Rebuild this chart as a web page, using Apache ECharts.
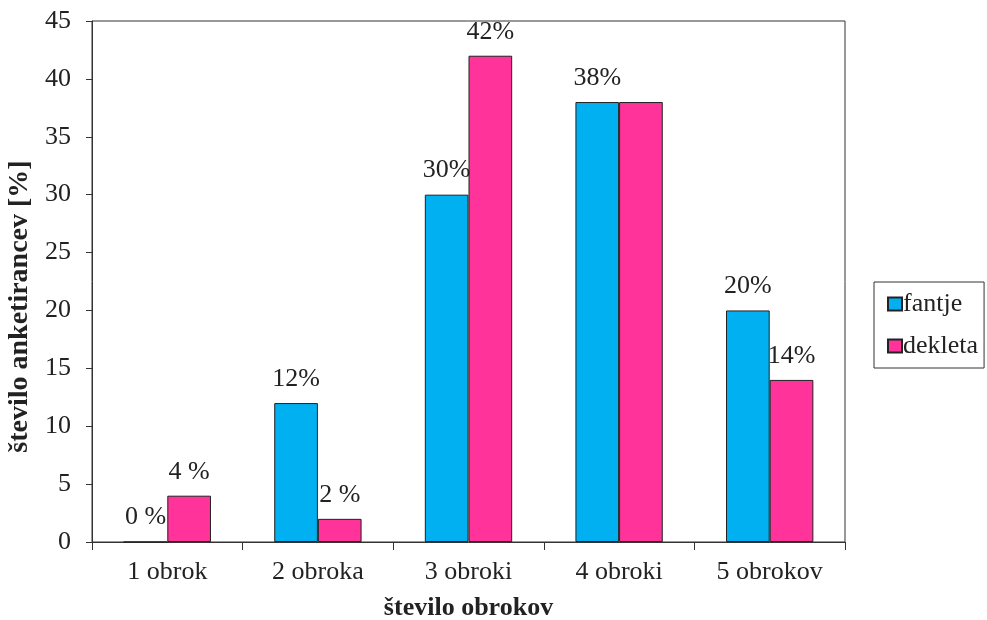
<!DOCTYPE html>
<html><head><meta charset="utf-8">
<script src="https://cdn.jsdelivr.net/npm/echarts@6/dist/echarts.min.js"></script>
<style>html,body{margin:0;padding:0;background:#fff}#c{width:987px;height:620px}</style>
</head><body><div id="c"></div>
<script>
const categories = ['1 obrok', '2 obroka', '3 obroki', '4 obroki', '5 obrokov'];
const fantje = [0, 12, 30, 38, 20];
const dekleta = [4, 2, 42, 38, 14];
const fantjeLabels = ['0 %', '12%', '30%', '38%', '20%'];
const dekletaLabels = ['4 %', '2 %', '42%', '', '14%'];
const yTicks = { min: 0, max: 45, interval: 5 };

const serif = '"Liberation Serif", "DejaVu Serif", serif';
const chart = echarts.init(document.getElementById('c'), null, { renderer: 'canvas' });
const labelStyle = (arr) => ({
  show: true, position: 'top', distance: 11,
  fontFamily: serif, fontSize: 26, color: '#222',
  formatter: (p) => arr[p.dataIndex]
});
chart.setOption({
  animation: false,
  backgroundColor: '#fff',
  grid: { left: 92, right: 142, top: 21, bottom: 78, outerBoundsMode: 'none', containLabel: false,
          show: true, borderColor: '#333', borderWidth: 1, backgroundColor: 'transparent' },
  legend: {
    orient: 'vertical', left: 874, top: 282,
    itemWidth: 14, itemHeight: 13, itemGap: 16,
    borderColor: '#333', borderWidth: 1, padding: [9, 6, 9, 13],
    textStyle: { fontFamily: serif, fontSize: 26, color: '#222', padding: [0, 0, 0, -4] },
    icon: 'rect',
    data: ['fantje', 'dekleta']
  },
  xAxis: {
    type: 'category', data: categories,
    name: 'število obrokov', nameLocation: 'middle', nameGap: 53,
    nameTextStyle: { fontFamily: serif, fontSize: 26, fontWeight: 'bold', color: '#222' },
    axisLine: { lineStyle: { color: '#333', width: 1 } },
    axisTick: { show: true, length: 8, lineStyle: { color: '#333' } },
    axisLabel: { fontFamily: serif, fontSize: 26, color: '#222', margin: 17 }
  },
  yAxis: {
    type: 'value', min: yTicks.min, max: yTicks.max, interval: yTicks.interval,
    name: 'število anketirancev [%]', nameLocation: 'middle', nameGap: 53,
    nameTextStyle: { fontFamily: serif, fontSize: 28, fontWeight: 'bold', color: '#222', padding: [0, 50, 0, 0] },
    axisLine: { show: true, lineStyle: { color: '#333', width: 1 } },
    axisTick: { show: true, length: 6, lineStyle: { color: '#333' } },
    axisLabel: { fontFamily: serif, fontSize: 26, color: '#222', margin: 21 },
    splitLine: { show: false }
  },
  series: [
    { name: 'fantje', type: 'bar', data: fantje, barGap: '0%', barCategoryGap: '42%',
      itemStyle: { color: '#00B0F0', borderColor: '#222', borderWidth: 1 },
      label: labelStyle(fantjeLabels) },
    { name: 'dekleta', type: 'bar', data: dekleta,
      itemStyle: { color: '#FF3399', borderColor: '#222', borderWidth: 1 },
      label: labelStyle(dekletaLabels) }
  ]
});
</script></body></html>
